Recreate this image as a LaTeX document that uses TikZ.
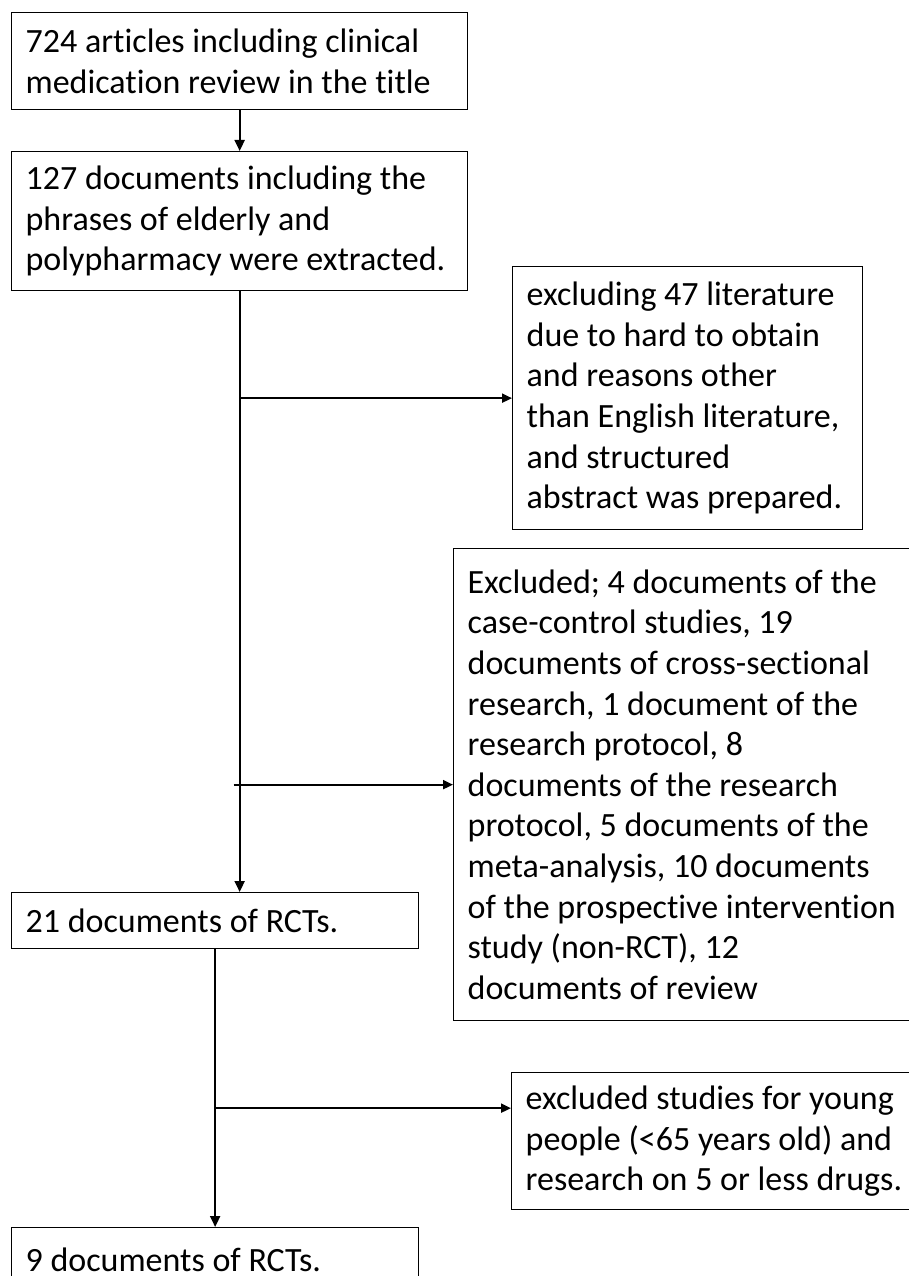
\documentclass[tikz,border=0pt]{standalone}
\usepackage{fontspec}
\setmainfont{Carlito}[Ligatures=NoCommon]
\usetikzlibrary{arrows.meta}
\begin{document}
\begin{tikzpicture}[x=1pt,y=-1pt,
  box/.style={draw, line width=1.3pt, anchor=north west, align=flush left,
    inner xsep=14pt, inner ysep=0pt, font=\fontsize{34}{40.6}\selectfont},
  flow/.style={line width=2pt, -{Triangle[length=11pt,width=10pt]}},
  side/.style={line width=2pt, -{Triangle[length=10pt,width=9pt]}}]
\useasboundingbox (0,0) rectangle (909,1276);
\node[box, text width=428pt, minimum height=97pt] (b1) at (11,12)
  {724 articles including clinical\\medication review in the title};
\node[box, text width=428pt, minimum height=139pt] (b2) at (11,151)
  {127 documents including the\\phrases of elderly and\\polypharmacy were extracted.};
\node[box, text width=322pt, minimum height=263pt] (b3) at (512,266)
  {excluding 47 literature\\due to hard to obtain\\and reasons other\\than English literature,\\and structured\\abstract was prepared.};
\node[box, text width=442pt, minimum height=472pt] (b4) at (453,548)
  {Excluded; 4 documents of the\\case-control studies, 19\\documents of cross-sectional\\research, 1 document of the\\research protocol, 8\\documents of the research\\protocol, 5 documents of the\\meta-analysis, 10 documents\\of the prospective intervention\\study (non-RCT), 12\\documents of review};
\node[box, text width=379pt, minimum height=56pt] (b5) at (11,892)
  {21 documents of RCTs.};
\node[box, text width=400pt, minimum height=137pt] (b6) at (511,1072)
  {excluded studies for young\\people (<65 years old) and\\research on 5 or less drugs.};
\node[box, text width=379pt, minimum height=64pt] (b7) at (11,1227)
  {9 documents of RCTs.};
\draw[flow] (b1.south) -- (b2.north);
\draw[flow] (b2.south) -- (b2.south |- b5.north);
\coordinate (j1) at (b2.south |- b3.west);
\draw[side] (j1) -- (b3.west);
\coordinate (j2) at ([xshift=-6pt]b2.south |- b4.west);
\draw[side] (j2) -- (b4.west);
\draw[flow] (b5.south) -- (b7.north);
\coordinate (j3) at ([yshift=33pt]b6.west -| b5.south);
\draw[side] (j3) -- (j3 -| b6.west);
\end{tikzpicture}
\end{document}
